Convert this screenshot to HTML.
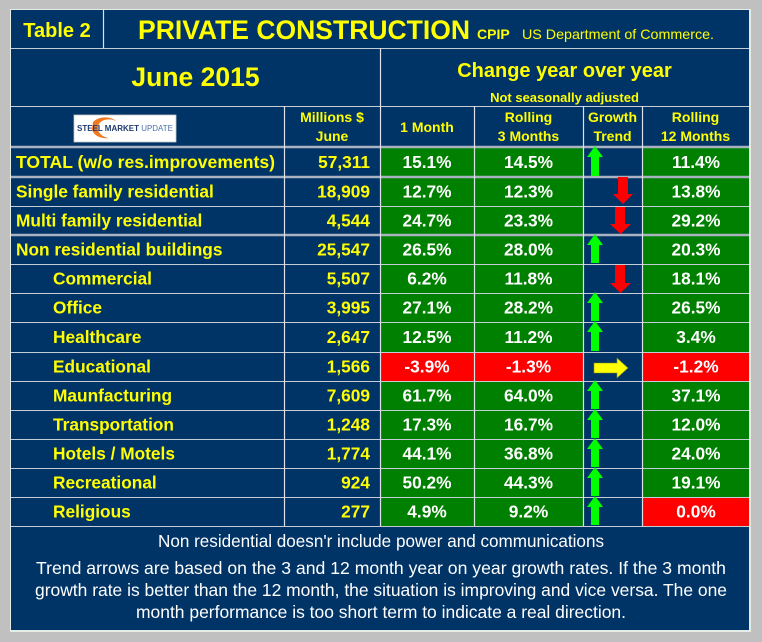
<!DOCTYPE html>
<html><head><meta charset="utf-8"><style>
html,body{margin:0;padding:0;background:#c0c0c0;}
svg{display:block;}
text{font-family:"Liberation Sans",Arial,sans-serif;}
.b{font-weight:bold;}
.y{fill:#ffff00;}
.w{fill:#ffffff;}
</style></head><body>
<svg width="762" height="642" viewBox="0 0 762 642" xmlns="http://www.w3.org/2000/svg">
<rect width="762" height="642" fill="#c0c0c0"/>
<rect x="10" y="9" width="741" height="623" fill="#e6ece6"/>
<rect x="11" y="10" width="738" height="620" fill="#003366"/>

<!-- cell fills -->
<g fill="#008000">
<rect x="380" y="147" width="94" height="233"/>
<rect x="474" y="147" width="109" height="233"/>
<rect x="642" y="147" width="107" height="233"/>
<rect x="380" y="381" width="94" height="145"/>
<rect x="474" y="381" width="109" height="145"/>
<rect x="642" y="381" width="107" height="116"/>
</g>
<g fill="#ff0000">
<rect x="380" y="352" width="94" height="29"/>
<rect x="474" y="352" width="109" height="29"/>
<rect x="642" y="352" width="107" height="29"/>
<rect x="642" y="497" width="107" height="29"/>
</g>

<!-- grid lines -->
<g stroke="#c4ccd8" stroke-width="1">
<line x1="11" y1="48.5" x2="749" y2="48.5"/>
<line x1="11" y1="106.5" x2="749" y2="106.5"/>
<line x1="11" y1="206.5" x2="749" y2="206.5"/>
<line x1="11" y1="264.5" x2="749" y2="264.5"/>
<line x1="11" y1="293.5" x2="749" y2="293.5"/>
<line x1="11" y1="322.5" x2="749" y2="322.5"/>
<line x1="11" y1="352.5" x2="749" y2="352.5"/>
<line x1="11" y1="381.5" x2="749" y2="381.5"/>
<line x1="11" y1="410.5" x2="749" y2="410.5"/>
<line x1="11" y1="439.5" x2="749" y2="439.5"/>
<line x1="11" y1="468.5" x2="749" y2="468.5"/>
<line x1="11" y1="497.5" x2="749" y2="497.5"/>
<line x1="11" y1="526.5" x2="749" y2="526.5"/>
</g>
<g stroke="#a8b2c0" stroke-width="2.5">
<line x1="11" y1="147" x2="749" y2="147"/>
<line x1="11" y1="177" x2="749" y2="177"/>
<line x1="11" y1="235" x2="749" y2="235"/>
</g>
<g stroke="#dde2ea" stroke-width="1.2">
<line x1="103.5" y1="10" x2="103.5" y2="48"/>
<line x1="380.5" y1="48" x2="380.5" y2="526"/>
<line x1="284.5" y1="106" x2="284.5" y2="526"/>
<line x1="474.5" y1="106" x2="474.5" y2="526"/>
<line x1="583.5" y1="106" x2="583.5" y2="526"/>
<line x1="642.5" y1="106" x2="642.5" y2="526"/>
</g>

<!-- header text -->
<text x="57" y="37" class="b y" font-size="20" text-anchor="middle">Table 2</text>
<text x="138" y="39" class="b y" font-size="26.5" textLength="332" lengthAdjust="spacingAndGlyphs">PRIVATE CONSTRUCTION</text>
<text x="477" y="39" class="b y" font-size="14">CPIP</text>
<text x="522" y="39" class="y" font-size="14" textLength="192" lengthAdjust="spacingAndGlyphs">US Department of Commerce.</text>

<text x="195.5" y="86" class="b y" font-size="26.5" text-anchor="middle">June 2015</text>
<text x="564.5" y="77" class="b y" font-size="20" text-anchor="middle">Change year over year</text>
<text x="564.5" y="102" class="b y" font-size="13" text-anchor="middle">Not seasonally adjusted</text>

<text x="332" y="122" class="b y" font-size="14" text-anchor="middle">Millions $</text>
<text x="332" y="141" class="b y" font-size="14" text-anchor="middle">June</text>
<text x="427" y="132" class="b y" font-size="14" text-anchor="middle">1 Month</text>
<text x="528.5" y="122" class="b y" font-size="14" text-anchor="middle">Rolling</text>
<text x="528.5" y="141" class="b y" font-size="14" text-anchor="middle">3 Months</text>
<text x="612.5" y="122" class="b y" font-size="14" text-anchor="middle">Growth</text>
<text x="612.5" y="141" class="b y" font-size="14" text-anchor="middle">Trend</text>
<text x="695.5" y="122" class="b y" font-size="14" text-anchor="middle">Rolling</text>
<text x="695.5" y="141" class="b y" font-size="14" text-anchor="middle">12 Months</text>

<!-- logo -->
<rect x="74" y="115" width="102" height="27" fill="#ffffff" stroke="#c8c8c8" stroke-width="0.8"/>
<path d="M93,122 C99,116 110,116 116,121 C110,118 102,119 99,124 C96,130 100,137 109,138 C100,139 93,135 92,129 Z" fill="#f07820"/>
<text x="77" y="131" font-size="8" font-weight="bold" fill="#1f3a6e" textLength="96" lengthAdjust="spacingAndGlyphs">STEEL MARKET <tspan font-weight="normal" fill="#4a72b0">UPDATE</tspan></text>

<!-- row labels -->
<g class="b y" font-size="17.3">
<text x="16" y="168" fill="#ffff00" textLength="259" lengthAdjust="spacingAndGlyphs">TOTAL (w/o res.improvements)</text>
<text x="16" y="197.5" fill="#ffff00">Single family residential</text>
<text x="16" y="226.5" fill="#ffff00">Multi family residential</text>
<text x="16" y="255.5" fill="#ffff00">Non residential buildings</text>
<text x="53" y="284.5" fill="#ffff00">Commercial</text>
<text x="53" y="313.5" fill="#ffff00">Office</text>
<text x="53" y="343" fill="#ffff00">Healthcare</text>
<text x="53" y="372.5" fill="#ffff00">Educational</text>
<text x="53" y="401.5" fill="#ffff00">Maunfacturing</text>
<text x="53" y="430.5" fill="#ffff00">Transportation</text>
<text x="53" y="459.5" fill="#ffff00">Hotels / Motels</text>
<text x="53" y="488.5" fill="#ffff00">Recreational</text>
<text x="53" y="517.5" fill="#ffff00">Religious</text>
</g>
<g font-weight="bold" font-size="17.3" fill="#ffff00" text-anchor="end">
<text x="370" y="168">57,311</text>
<text x="370" y="197.5">18,909</text>
<text x="370" y="226.5">4,544</text>
<text x="370" y="255.5">25,547</text>
<text x="370" y="284.5">5,507</text>
<text x="370" y="313.5">3,995</text>
<text x="370" y="343">2,647</text>
<text x="370" y="372.5">1,566</text>
<text x="370" y="401.5">7,609</text>
<text x="370" y="430.5">1,248</text>
<text x="370" y="459.5">1,774</text>
<text x="370" y="488.5">924</text>
<text x="370" y="517.5">277</text>
</g>
<g font-weight="bold" font-size="17.3" fill="#ffffff" text-anchor="middle">
<text x="427" y="168">15.1%</text><text x="528.5" y="168">14.5%</text><text x="696" y="168">11.4%</text>
<text x="427" y="197.5">12.7%</text><text x="528.5" y="197.5">12.3%</text><text x="696" y="197.5">13.8%</text>
<text x="427" y="226.5">24.7%</text><text x="528.5" y="226.5">23.3%</text><text x="696" y="226.5">29.2%</text>
<text x="427" y="255.5">26.5%</text><text x="528.5" y="255.5">28.0%</text><text x="696" y="255.5">20.3%</text>
<text x="427" y="284.5">6.2%</text><text x="528.5" y="284.5">11.8%</text><text x="696" y="284.5">18.1%</text>
<text x="427" y="313.5">27.1%</text><text x="528.5" y="313.5">28.2%</text><text x="696" y="313.5">26.5%</text>
<text x="427" y="343">12.5%</text><text x="528.5" y="343">11.2%</text><text x="696" y="343">3.4%</text>
<text x="427" y="372.5">-3.9%</text><text x="528.5" y="372.5">-1.3%</text><text x="696" y="372.5">-1.2%</text>
<text x="427" y="401.5">61.7%</text><text x="528.5" y="401.5">64.0%</text><text x="696" y="401.5">37.1%</text>
<text x="427" y="430.5">17.3%</text><text x="528.5" y="430.5">16.7%</text><text x="696" y="430.5">12.0%</text>
<text x="427" y="459.5">44.1%</text><text x="528.5" y="459.5">36.8%</text><text x="696" y="459.5">24.0%</text>
<text x="427" y="488.5">50.2%</text><text x="528.5" y="488.5">44.3%</text><text x="696" y="488.5">19.1%</text>
<text x="427" y="517.5">4.9%</text><text x="528.5" y="517.5">9.2%</text><text x="696" y="517.5">0.0%</text>
</g>

<!-- arrows -->
<g fill="#00ff00">
<polygon points="595,146 603,157 599,157 599,176 591,176 591,157 587,157"/>
<polygon points="595,234 603,245 599,245 599,263 591,263 591,245 587,245"/>
<polygon points="595,292 603,303 599,303 599,321 591,321 591,303 587,303"/>
<polygon points="595,321 603,332 599,332 599,351 591,351 591,332 587,332"/>
<polygon points="595,380 603,391 599,391 599,409 591,409 591,391 587,391"/>
<polygon points="595,409 603,420 599,420 599,438 591,438 591,420 587,420"/>
<polygon points="595,438 603,449 599,449 599,467 591,467 591,449 587,449"/>
<polygon points="595,467 603,478 599,478 599,496 591,496 591,478 587,478"/>
<polygon points="595,496 603,507 599,507 599,525 591,525 591,507 587,507"/>
</g>
<g fill="#ff0000">
<polygon points="618,177 628,177 628,194 633,194 623,204 613,194 618,194"/>
<polygon points="615,207 625,207 625,224 631,224 620.5,234 610,224 615,224"/>
<polygon points="615,265 625,265 625,283 631,283 620.5,293 610,283 615,283"/>
</g>
<polygon points="594,363 617,363 617,358 628,368 617,378 617,373 594,373" fill="#ffff00" stroke="#8a8a20" stroke-width="0.6"/>

<!-- footer -->
<g font-size="17.5" fill="#ffffff" text-anchor="middle">
<text x="381" y="547" textLength="446" lengthAdjust="spacingAndGlyphs">Non residential doesn'r include power and communications</text>
<text x="381" y="574" textLength="690" lengthAdjust="spacingAndGlyphs">Trend arrows are based on the 3 and 12 month year on year growth rates. If the 3 month</text>
<text x="381" y="596" textLength="692" lengthAdjust="spacingAndGlyphs">growth rate is better than the 12 month, the situation is improving and vice versa. The one</text>
<text x="381" y="618" textLength="490" lengthAdjust="spacingAndGlyphs">month performance is too short term to indicate a real direction.</text>
</g>
</svg>
</body></html>
